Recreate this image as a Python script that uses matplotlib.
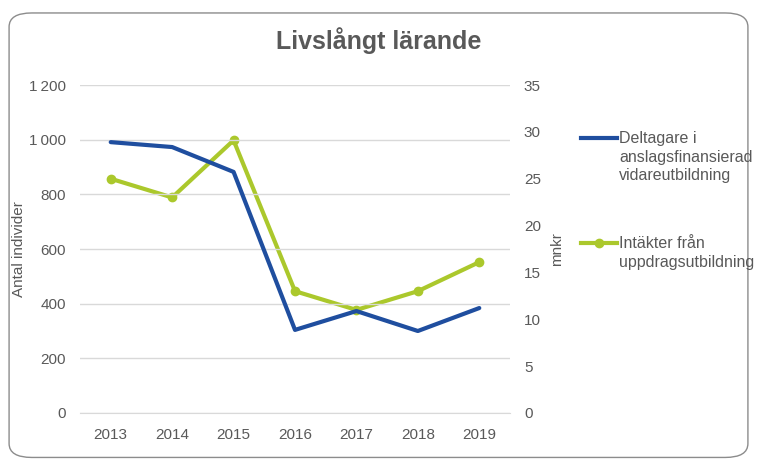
import matplotlib.pyplot as plt
from matplotlib.lines import Line2D
from matplotlib.patches import FancyBboxPatch

plt.rcParams['font.family'] = ['Liberation Sans', 'DejaVu Sans']

years = ["2013", "2014", "2015", "2016", "2017", "2018", "2019"]
deltagare = [991, 973, 882, 304, 373, 300, 384]
intakter = [25, 23, 29.1, 13, 11, 13, 16.1]

blue = "#1f4e9f"
green = "#abc82c"
grey = "#595959"

fig = plt.figure(figsize=(7.57, 4.63), dpi=100)
fig.patches.append(FancyBboxPatch((0.012, 0.012), 0.976, 0.96, boxstyle="round,pad=0,rounding_size=0.03",
                                  transform=fig.transFigure, fill=False, edgecolor="#8c8c8c", linewidth=1))

ax = fig.add_axes([0.1057, 0.108, 0.568, 0.7084])
ax2 = ax.twinx()

x = range(len(years))
ax.plot(x, deltagare, color=blue, linewidth=3, solid_capstyle="round", zorder=3)
ax2.plot(x, intakter, color=green, linewidth=3, marker="o", markersize=6, solid_capstyle="round")

ax.set_xlim(-0.5, len(years) - 0.5)
ax.set_ylim(0, 1200)
ax2.set_ylim(0, 35)
ax.set_yticks(range(0, 1201, 200))
ax.set_yticklabels([f"{v:,}".replace(",", "\u2009") for v in range(0, 1201, 200)])
ax2.set_yticks(range(0, 36, 5))
ax.set_xticks(list(x))
ax.set_xticklabels(years)

ax.grid(axis="y", color="#d9d9d9", linewidth=1)
ax.set_axisbelow(True)
for a in (ax, ax2):
    for s in a.spines.values():
        s.set_visible(False)
    a.tick_params(length=0, colors=grey, labelsize=11)
ax.tick_params(axis="y", pad=10)
ax2.tick_params(axis="y", pad=10)
ax.tick_params(axis="x", pad=11)
ax.spines["bottom"].set_visible(True)
ax.spines["bottom"].set_color("#d9d9d9")

ax.set_ylabel("Antal individer", color=grey, fontsize=11)
ax.yaxis.set_label_coords(-0.126, 0.5)
ax2.set_ylabel("mnkr", color=grey, fontsize=11)
ax2.yaxis.set_label_coords(1.093, 0.5)
ax.set_zorder(ax2.get_zorder() + 1)
ax.patch.set_visible(False)

fig.text(0.5, 0.912, "Livslångt lärande", ha="center", va="center", fontsize=18, fontweight="bold", color=grey)

fig.add_artist(Line2D([0.767, 0.815], [0.702, 0.702], color=blue, linewidth=3, transform=fig.transFigure))
fig.text(0.818, 0.717, "Deltagare i\nanslagsfinansierad\nvidareutbildning", va="top", ha="left",
         fontsize=11.5, color=grey, linespacing=1.3)
fig.add_artist(Line2D([0.767, 0.791, 0.815], [0.475, 0.475, 0.475], color=green, linewidth=3, marker="o",
                      markersize=6, markevery=[1], transform=fig.transFigure))
fig.text(0.818, 0.490, "Intäkter från\nuppdragsutbildning", va="top", ha="left",
         fontsize=11.5, color=grey, linespacing=1.3)

fig.savefig("out.png", dpi=100)
